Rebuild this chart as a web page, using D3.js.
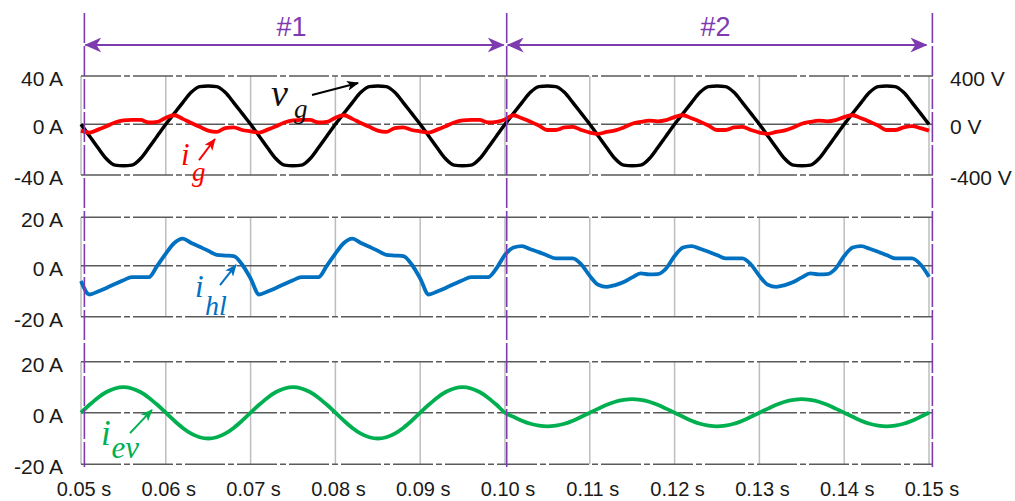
<!DOCTYPE html>
<html>
<head>
<meta charset="utf-8">
<script src="https://cdn.jsdelivr.net/npm/d3@7"></script>
<style>
  body { margin: 0; background: #fff; }
  svg { display: block; font-family: "Liberation Sans", Arial, sans-serif; }
</style>
</head>
<body>
<div id="chart"></div>
<script>
const width = 1015
const height = 501

// time axis
const timeTicks = [0.05, 0.06, 0.07, 0.08, 0.09, 0.10, 0.11, 0.12, 0.13, 0.14, 0.15]
const timeLabels = ['0.05 s', '0.06 s', '0.07 s', '0.08 s', '0.09 s', '0.10 s', '0.11 s', '0.12 s', '0.13 s', '0.14 s', '0.15 s']
const tStart = 0.05
const tStep = 0.001

// grid voltage v_g (V), one value per ms from 0.050 s to 0.150 s
const vg = [
  0, -92, -185, -272, -322, -327, -322, -272, -185, -92,
  0, 90, 180, 265, 312, 317, 312, 265, 180, 90,
  0, -92, -185, -272, -322, -327, -322, -272, -185, -92,
  0, 90, 180, 265, 312, 317, 312, 265, 180, 90,
  0, -92, -185, -272, -322, -327, -322, -272, -185, -92,
  0, 90, 180, 265, 312, 317, 312, 265, 180, 90,
  0, -92, -185, -272, -322, -327, -322, -272, -185, -92,
  0, 90, 180, 265, 312, 317, 312, 265, 180, 90,
  0, -92, -185, -272, -322, -327, -322, -272, -185, -92,
  0, 90, 180, 265, 312, 317, 312, 265, 180, 90,
  0
]

// grid current i_g (A)
const ig = [
  -5, -6.5, -4.2, -1.5, 1.5, 3.2, 3.6, 3.6, 1.5, 2,
  5.5, 7.5, 4.5, 1, -2, -5, -6, -3, -2.5, -4.5,
  -5.5, -6.5, -4.2, -1.5, 1.5, 3.2, 3.6, 3.6, 1.5, 2,
  5.5, 7.5, 4.5, 1, -2, -5, -6, -3, -2.5, -4.5,
  -5.5, -6.5, -4.2, -1.5, 1.5, 3.2, 3.6, 3.6, 1.5, 2,
  4, 7.5, 5, 2.2, -1, -4.5, -4.5, -2.5, -2, -4.5,
  -6.5, -7.5, -6, -4.8, -2.5, 0.5, 2, 3, 2.5, 3.5,
  6, 7.5, 5, 2.2, -1, -4.5, -4.5, -2.5, -2, -4.5,
  -6.5, -7.5, -6, -4.8, -2.5, 0.5, 2, 3, 2.5, 3.5,
  6, 7.5, 5, 2.2, -1, -4.5, -4.5, -2.5, -1.5, -3,
  -5
]

// household load current i_hl (A)
const ihl = [
  -6, -11.3, -10.1, -8.7, -7.2, -5.7, -4.5, -4.5, -4.5, 0,
  5, 9.4, 11.2, 9.4, 7.8, 6.2, 4.5, 4.2, 4, 0.5,
  -5, -11.3, -10.1, -8.7, -7.2, -5.7, -4.5, -4.5, -4.5, 0,
  5, 9.4, 11.2, 9.4, 7.8, 6.2, 4.5, 4.2, 4, 0.5,
  -5, -11.3, -10.1, -8.7, -7.2, -5.7, -4.5, -4.5, -4.5, -1,
  4.5, 7.5, 8.1, 6.8, 5.6, 4.2, 3, 3, 3, 0.5,
  -4, -7.5, -8.3, -7.6, -6.4, -4.6, -3, -3.4, -3.3, -1.1,
  4, 7.5, 8.1, 7, 5.8, 4.4, 3, 3, 3, 0.5,
  -4, -7.5, -8.3, -7.6, -6.4, -4.6, -3, -3.4, -3.3, -1.1,
  4, 7.5, 8.1, 7, 5.8, 4.4, 3, 3, 3, 0.5,
  -4.3
]

// EV charger current i_ev (A)
const iev = [
  0, 3.1, 5.9, 8.1, 9.5, 10, 9.5, 8.1, 5.9, 3.1,
  0, -3.1, -5.9, -8.1, -9.5, -10, -9.5, -8.1, -5.9, -3.1,
  0, 3.1, 5.9, 8.1, 9.5, 10, 9.5, 8.1, 5.9, 3.1,
  0, -3.1, -5.9, -8.1, -9.5, -10, -9.5, -8.1, -5.9, -3.1,
  0, 3.1, 5.9, 8.1, 9.5, 10, 9.5, 8.1, 5.9, 3.1,
  0, -1.6, -3.1, -4.3, -5, -5.3, -5, -4.3, -3.1, -1.6,
  0, 1.6, 3.1, 4.3, 5, 5.3, 5, 4.3, 3.1, 1.6,
  0, -1.6, -3.1, -4.3, -5, -5.3, -5, -4.3, -3.1, -1.6,
  0, 1.6, 3.1, 4.3, 5, 5.3, 5, 4.3, 3.1, 1.6,
  0, -1.6, -3.1, -4.3, -5, -5.3, -5, -4.3, -3.1, -1.6,
  0
]

// y ticks
const topTicks = [40, 0, -40]
const topLabels = ['40 A', '0 A', '-40 A']
const voltTicks = [400, 0, -400]
const voltLabels = ['400 V', '0 V', '-400 V']
const lowTicks = [20, 0, -20]
const lowLabels = ['20 A', '0 A', '-20 A']

// operating sections
const sectionBounds = [0.0504, 0.1002, 0.1504]
const sectionNames = ['#1', '#2']

const purple = '#7E3BAF'
const colors = { vg: '#000000', ig: '#FF0000', ihl: '#0070C0', iev: '#00B050' }

const x = d3.scaleLinear().domain([0.05, 0.15]).range([81, 929])
const yTop = d3.scaleLinear().domain([-40, 0, 40]).range([175, 124.3, 76])
const yVolt = d3.scaleLinear().domain([-400, 0, 400]).range([175, 124.3, 76])
const yMid = d3.scaleLinear().domain([-20, 0, 20]).range([316.7, 265.7, 217.3])
const yBot = d3.scaleLinear().domain([-20, 0, 20]).range([464.3, 412.7, 361.7])

const svg = d3.select('#chart')
  .append('svg')
    .attr('width', width)
    .attr('height', height)

const defs = svg.append('defs')
const addMarker = (id, color, w, h, back) => defs.append('marker')
    .attr('id', id)
    .attr('viewBox', `0 0 ${w} ${h}`)
    .attr('refX', w - 1)
    .attr('refY', h / 2)
    .attr('markerUnits', 'userSpaceOnUse')
    .attr('markerWidth', w)
    .attr('markerHeight', h)
    .attr('orient', 'auto-start-reverse')
  .append('path')
    .attr('d', `M0,0 L${w},${h / 2} L0,${h} L${back},${h / 2} Z`)
    .attr('fill', color)
addMarker('arr-purple', purple, 17, 15, 5)
for (let k in colors) addMarker('arr-' + k, colors[k], 12, 10, 3)

// panels: grid + tick labels
const panels = [
  { y: yTop, ticks: topTicks, labels: topLabels },
  { y: yMid, ticks: lowTicks, labels: lowLabels },
  { y: yBot, ticks: lowTicks, labels: lowLabels },
]
const grid = svg.append('g')
panels.forEach(p => {
  const [y0, y1] = [p.y(p.ticks[2]), p.y(p.ticks[0])]
  grid.append('g')
    .selectAll('line')
    .data(timeTicks)
    .enter().append('line')
      .attr('x1', d => x(d)).attr('x2', d => x(d))
      .attr('y1', y0).attr('y2', y1)
      .style('stroke', '#bdbdbd')
      .style('stroke-width', 1.5)
  grid.append('g')
    .selectAll('line')
    .data(p.ticks)
    .enter().append('line')
      .attr('x1', x(0.05)).attr('x2', x(0.15) + 4)
      .attr('y1', d => p.y(d)).attr('y2', d => p.y(d))
      .style('stroke', '#5a5a5a')
      .style('stroke-width', 1.5)
      .style('stroke-dasharray', '40,3,6,3')
  grid.append('g')
    .selectAll('text')
    .data(p.ticks)
    .enter().append('text')
      .attr('x', 63)
      .attr('y', d => p.y(d) + 2.5)
      .attr('text-anchor', 'end')
      .attr('dominant-baseline', 'central')
      .style('font-size', '21px')
      .style('fill', '#1a1a1a')
      .text((d, i) => p.labels[i])
})

// right axis (voltage)
svg.append('g')
  .selectAll('text')
  .data(voltTicks)
  .enter().append('text')
    .attr('x', 950)
    .attr('y', d => yVolt(d) + 2)
    .attr('dominant-baseline', 'central')
    .style('font-size', '21px')
    .style('fill', '#1a1a1a')
    .text((d, i) => voltLabels[i])

// bottom time axis
svg.append('g')
  .selectAll('text')
  .data(timeTicks)
  .enter().append('text')
    .attr('x', d => x(d) + 3)
    .attr('y', 496)
    .attr('text-anchor', 'middle')
    .style('font-size', '20px')
    .style('fill', '#1a1a1a')
    .text((d, i) => timeLabels[i])

// waveforms
const lineFor = y => d3.line()
  .x((d, i) => x(tStart + i * tStep))
  .y(d => y(d))
  .curve(d3.curveMonotoneX)
const series = [
  { data: vg, y: yVolt, color: colors.vg, w: 3.5 },
  { data: ig, y: yTop, color: colors.ig, w: 3.8 },
  { data: ihl, y: yMid, color: colors.ihl, w: 3.8 },
  { data: iev, y: yBot, color: colors.iev, w: 3.8 },
]
svg.append('g')
  .selectAll('path')
  .data(series)
  .enter().append('path')
    .attr('d', d => lineFor(d.y)(d.data))
    .style('fill', 'none')
    .style('stroke', d => d.color)
    .style('stroke-width', d => d.w)
    .style('stroke-linejoin', 'round')

// section boundaries and arrows
const sec = svg.append('g')
sec.selectAll('line.bound')
  .data(sectionBounds)
  .enter().append('line')
    .attr('class', 'bound')
    .attr('x1', d => x(d)).attr('x2', d => x(d))
    .attr('y1', 13).attr('y2', 467)
    .style('stroke', purple)
    .style('stroke-width', 1.6)
    .style('stroke-dasharray', '30,3')
sec.selectAll('line.span')
  .data(sectionNames)
  .enter().append('line')
    .attr('class', 'span')
    .attr('x1', (d, i) => x(sectionBounds[i]) + 1)
    .attr('x2', (d, i) => x(sectionBounds[i + 1]) - (i ? 6 : 3))
    .attr('y1', 45).attr('y2', 45)
    .style('stroke', purple)
    .style('stroke-width', 2)
    .attr('marker-start', 'url(#arr-purple)')
    .attr('marker-end', 'url(#arr-purple)')
sec.selectAll('text')
  .data(sectionNames)
  .enter().append('text')
    .attr('x', (d, i) => (x(sectionBounds[i]) + x(sectionBounds[i + 1])) / 2 - 4)
    .attr('y', 36)
    .attr('text-anchor', 'middle')
    .style('font-size', '27px')
    .style('fill', purple)
    .text(d => d)

// annotations (positions in data units of each panel)
const notes = [
  { key: 'vg', y: yVolt, main: 'v', sub: 'g', size: 38, subSize: 27,
    at: [0.07241, 152], subAt: [0.07512, 52], from: [0.07724, 243], to: [0.08267, 342] },
  { key: 'ig', y: yTop, main: 'i', sub: 'g', size: 31, subSize: 27,
    at: [0.06179, -32.1], subAt: [0.06309, -44.7], from: [0.06392, -28.2], to: [0.0658, -11.6] },
  { key: 'ihl', y: yMid, main: 'i', sub: 'hl', size: 31, subSize: 28,
    at: [0.06344, -12.3], subAt: [0.06462, -19.3], from: [0.06639, -7.6], to: [0.06828, 0.3] },
  { key: 'iev', y: yBot, main: 'i', sub: 'ev', size: 35, subSize: 31,
    at: [0.05236, -12.5], subAt: [0.0536, -17.6], from: [0.05578, -7.9], to: [0.05837, 1.1] },
]
const ann = svg.append('g')
  .style('font-family', '"Liberation Serif", "Times New Roman", serif')
  .style('font-style', 'italic')
notes.forEach(n => {
  const c = n.key === 'vg' ? '#111' : colors[n.key]
  ann.append('text')
    .attr('x', x(n.at[0])).attr('y', n.y(n.at[1]))
    .style('font-size', n.size + 'px')
    .style('fill', c)
    .text(n.main)
  ann.append('text')
    .attr('x', x(n.subAt[0])).attr('y', n.y(n.subAt[1]))
    .style('font-size', n.subSize + 'px')
    .style('fill', c)
    .text(n.sub)
  ann.append('line')
    .attr('x1', x(n.from[0])).attr('y1', n.y(n.from[1]))
    .attr('x2', x(n.to[0])).attr('y2', n.y(n.to[1]))
    .style('stroke', colors[n.key])
    .style('stroke-width', 2)
    .attr('marker-end', `url(#arr-${n.key})`)
})
</script>
</body>
</html>
